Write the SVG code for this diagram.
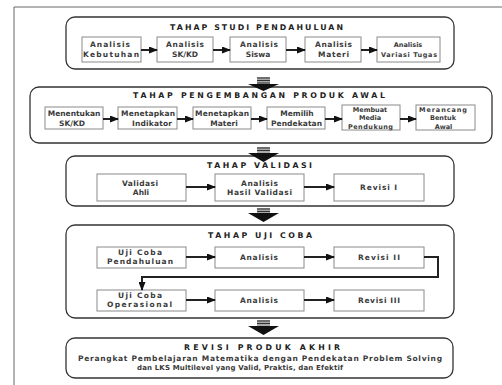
<svg xmlns="http://www.w3.org/2000/svg" width="502" height="385" viewBox="0 0 502 385">
<defs>
<style>
text{font-family:"DejaVu Sans","Liberation Sans",sans-serif;font-weight:bold;fill:#3a3a3a;font-size:7.5px}
.t{font-size:7.8px;fill:#222}
.s{font-size:6.5px}
.c{text-anchor:middle}
.stage{fill:#fff;stroke:#333;stroke-width:1.3}
.box{fill:#fff;stroke:#8a8a8a;stroke-width:1}
.ln{fill:none;stroke:#222;stroke-width:2}
.frame{fill:none;stroke:#666;stroke-width:1}
.shaft{fill:#aaa}
.stripe{stroke:#333;stroke-width:1}
.head{fill:#111}
</style>
<marker id="ah" markerUnits="userSpaceOnUse" markerWidth="9" markerHeight="7" refX="8" refY="3.5" orient="auto">
<path d="M0,0 L9,3.5 L0,7 z" fill="#111"/>
</marker>
</defs>
<rect width="502" height="385" fill="#fff"/>
<path class="frame" d="M14,385 V7 H502"/>

<g id="stage-studi">
<rect class="stage" x="66" y="17" width="388" height="52" rx="9"/>
<text class="t" x="170" y="30" textLength="173">TAHAP STUDI PENDAHULUAN</text>
</g>
<g id="n-kebutuhan"><rect class="box" x="82" y="37" width="59" height="25"/>
<text x="90" y="47" textLength="40">Analisis</text><text x="83" y="57" textLength="56">Kebutuhan</text></g>
<g id="n-skkd1"><rect class="box" x="157" y="37" width="56" height="25"/>
<text x="166" y="47" textLength="38">Analisis</text><text class="c" x="185" y="57">SK/KD</text></g>
<g id="n-siswa"><rect class="box" x="230" y="37" width="56" height="25"/>
<text x="240" y="47" textLength="38">Analisis</text><text class="c" x="258" y="57">Siswa</text></g>
<g id="n-materi1"><rect class="box" x="305" y="37" width="56" height="25"/>
<text x="315" y="47" textLength="37">Analisis</text><text x="318" y="57" textLength="31">Materi</text></g>
<g id="n-variasi"><rect class="box" x="377" y="37" width="63" height="25"/>
<text class="s c" x="408" y="47">Analisis</text><text class="s" x="381" y="57" textLength="56">Variasi Tugas</text></g>

<g id="stage-pengembangan">
<rect class="stage" x="30" y="87" width="462" height="56" rx="9"/>
<text class="t" x="133" y="98" textLength="252">TAHAP PENGEMBANGAN PRODUK AWAL</text>
</g>
<g id="n-menentukan"><rect class="box" x="45" y="107" width="58" height="22"/>
<text class="c" x="74" y="115.5">Menentukan</text><text class="c" x="72" y="125.5">SK/KD</text></g>
<g id="n-indikator"><rect class="box" x="118" y="107" width="59" height="22"/>
<text x="121" y="115.5" textLength="54">Menetapkan</text><text x="132" y="125.5" textLength="40">Indikator</text></g>
<g id="n-materi2"><rect class="box" x="193" y="107" width="58" height="22"/>
<text x="195" y="115.5" textLength="54">Menetapkan</text><text class="c" x="224" y="125.5">Materi</text></g>
<g id="n-pendekatan"><rect class="box" x="267" y="107" width="58" height="22"/>
<text class="c" x="297" y="115.5">Memilih</text><text x="271" y="125.5" textLength="51">Pendekatan</text></g>
<g id="n-media"><rect class="box" x="342" y="105" width="58" height="25"/>
<text class="s c" x="370" y="111.5">Membuat</text><text class="s c" x="370" y="119.5">Media</text><text class="s" x="348" y="128.5" textLength="45">Pendukung</text></g>
<g id="n-bentuk"><rect class="box" x="416" y="105" width="59" height="25"/>
<text class="s" x="419" y="111.5" textLength="48">Merancang</text><text class="s c" x="443" y="119.5">Bentuk</text><text class="s c" x="443.5" y="128.5">Awal</text></g>

<g id="stage-validasi">
<rect class="stage" x="66" y="156" width="388" height="50" rx="9"/>
<text class="t" x="207" y="168" textLength="105">TAHAP VALIDASI</text>
</g>
<g id="n-validasi-ahli"><rect class="box" x="97" y="174" width="89" height="27"/>
<text x="122" y="186" textLength="36">Validasi</text><text class="c" x="141" y="195">Ahli</text></g>
<g id="n-hasil-validasi"><rect class="box" x="215" y="174" width="89" height="27"/>
<text x="241" y="186" textLength="37">Analisis</text><text x="227" y="195" textLength="65">Hasil Validasi</text></g>
<g id="n-revisi1"><rect class="box" x="334" y="174" width="90" height="27"/>
<text x="360" y="190" textLength="37">Revisi I</text></g>

<g id="stage-ujicoba">
<rect class="stage" x="66" y="225" width="388" height="93" rx="9"/>
<text class="t" x="208" y="238" textLength="104">TAHAP UJI COBA</text>
</g>
<g id="n-uji-pendahuluan"><rect class="box" x="97" y="247" width="89" height="21"/>
<text x="118" y="255" textLength="44">Uji Coba</text><text x="107" y="264" textLength="66">Pendahuluan</text></g>
<g id="n-analisis-a"><rect class="box" x="215" y="247" width="89" height="21"/>
<text x="240" y="260" textLength="38">Analisis</text></g>
<g id="n-revisi2"><rect class="box" x="334" y="247" width="90" height="21"/>
<text x="358" y="260" textLength="42">Revisi II</text></g>
<g id="n-uji-operasional"><rect class="box" x="97" y="290" width="89" height="21"/>
<text x="118" y="298" textLength="44">Uji Coba</text><text x="107" y="307" textLength="65">Operasional</text></g>
<g id="n-analisis-b"><rect class="box" x="215" y="290" width="89" height="21"/>
<text x="240" y="303" textLength="38">Analisis</text></g>
<g id="n-revisi3"><rect class="box" x="334" y="290" width="90" height="21"/>
<text x="358" y="303" textLength="42">Revisi III</text></g>

<g id="stage-akhir">
<rect class="stage" x="66" y="338" width="387" height="40" rx="9"/>
<text class="t" x="184" y="350" textLength="156">REVISI PRODUK AKHIR</text>
<text x="78" y="360.5" textLength="364">Perangkat Pembelajaran Matematika dengan Pendekatan Problem Solving</text>
<text style="font-size:7px" x="137" y="370" textLength="206">dan LKS Multilevel yang Valid, Praktis, dan Efektif</text>
</g>

<g id="connectors">
<line class="ln" x1="141" y1="50" x2="157" y2="50" marker-end="url(#ah)"/>
<line class="ln" x1="213" y1="50" x2="230" y2="50" marker-end="url(#ah)"/>
<line class="ln" x1="286" y1="50" x2="305" y2="50" marker-end="url(#ah)"/>
<line class="ln" x1="361" y1="50" x2="377" y2="50" marker-end="url(#ah)"/>

<line class="ln" x1="103" y1="119" x2="118" y2="119" marker-end="url(#ah)"/>
<line class="ln" x1="177" y1="119" x2="193" y2="119" marker-end="url(#ah)"/>
<line class="ln" x1="251" y1="119" x2="267" y2="119" marker-end="url(#ah)"/>
<line class="ln" x1="325" y1="119" x2="342" y2="119" marker-end="url(#ah)"/>
<line class="ln" x1="400" y1="119" x2="416" y2="119" marker-end="url(#ah)"/>

<line class="ln" x1="186" y1="187" x2="215" y2="187" marker-end="url(#ah)"/>
<line class="ln" x1="304" y1="187" x2="334" y2="187" marker-end="url(#ah)"/>

<line class="ln" x1="186" y1="257" x2="215" y2="257" marker-end="url(#ah)"/>
<line class="ln" x1="304" y1="257" x2="334" y2="257" marker-end="url(#ah)"/>
<path class="ln" d="M424,257 H438 V277 H142 V290" marker-end="url(#ah)"/>
<line class="ln" x1="186" y1="300" x2="215" y2="300" marker-end="url(#ah)"/>
<line class="ln" x1="304" y1="300" x2="334" y2="300" marker-end="url(#ah)"/>

<g id="down1">
<rect class="shaft" x="257" y="77" width="13" height="7"/>
<line class="stripe" x1="257" y1="78" x2="270" y2="78"/><line class="stripe" x1="257" y1="80.5" x2="270" y2="80.5"/><line class="stripe" x1="257" y1="83" x2="270" y2="83"/>
<path class="head" d="M248,84 H279 L263.5,91 z"/>
</g>
<g id="down2">
<rect class="shaft" x="257" y="147" width="13" height="6"/>
<line class="stripe" x1="257" y1="148" x2="270" y2="148"/><line class="stripe" x1="257" y1="150.5" x2="270" y2="150.5"/>
<path class="head" d="M248,153 H279 L263.5,162 z"/>
</g>
<g id="down3">
<rect class="shaft" x="257" y="208" width="13" height="5"/>
<line class="stripe" x1="257" y1="209" x2="270" y2="209"/><line class="stripe" x1="257" y1="211.5" x2="270" y2="211.5"/>
<path class="head" d="M248,213 H279 L263.5,222 z"/>
</g>
<g id="down4">
<rect class="shaft" x="257" y="320" width="13" height="6"/>
<line class="stripe" x1="257" y1="321" x2="270" y2="321"/><line class="stripe" x1="257" y1="323.5" x2="270" y2="323.5"/>
<path class="head" d="M248,326 H279 L263.5,335 z"/>
</g>
</g>
</svg>
